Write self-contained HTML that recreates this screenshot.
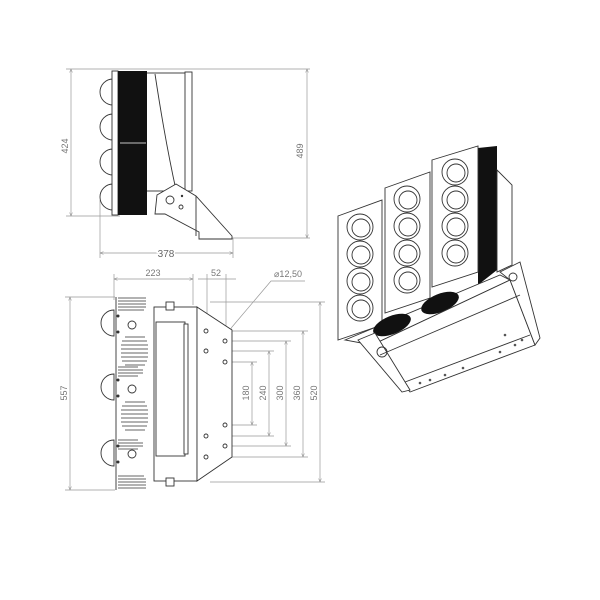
<!DOCTYPE html>
<html><head><meta charset="utf-8"><style>
html,body{margin:0;padding:0;background:#fff}
svg{display:block}
text{font-family:"Liberation Sans",sans-serif;font-size:9px;fill:#777}
.d{stroke:#999;stroke-width:0.7;fill:none}
.l{stroke:#333;stroke-width:0.9;fill:#fff}
.n{stroke:#333;stroke-width:0.9;fill:none}
</style></head><body>
<svg width="600" height="600" viewBox="0 0 600 600" xmlns="http://www.w3.org/2000/svg">
<defs>
<marker id="a" markerWidth="6" markerHeight="6" refX="5" refY="3" orient="auto-start-reverse"><path d="M0,1 L5,3 L0,5" fill="none" stroke="#888" stroke-width="0.7"/></marker>
</defs>

<!-- TOP VIEW -->
<line class="d" x1="66" y1="69" x2="310" y2="69"/>
<line class="d" x1="66" y1="216" x2="120" y2="216"/>
<line class="d" x1="200" y1="238" x2="310" y2="238"/>
<line class="d" x1="71" y1="69" x2="71" y2="216" marker-start="url(#a)" marker-end="url(#a)"/>
<line class="d" x1="307" y1="69" x2="307" y2="238" marker-start="url(#a)" marker-end="url(#a)"/>
<text transform="translate(68,146) rotate(-90)" text-anchor="middle">424</text>
<text transform="translate(303,151) rotate(-90)" text-anchor="middle">489</text>
<line class="d" x1="100" y1="200" x2="100" y2="258"/>
<line class="d" x1="233" y1="238" x2="233" y2="258"/>
<line class="d" x1="100" y1="253" x2="233" y2="253" marker-start="url(#a)" marker-end="url(#a)"/>
<text x="166" y="257" text-anchor="middle" style="fill:#666;font-size:10px;paint-order:stroke;stroke:#fff;stroke-width:3">378</text>
<g class="l">
<path d="M113,79 A13,13 0 0 0 113,105 Z"/>
<path d="M113,114 A13,13 0 0 0 113,140 Z"/>
<path d="M113,149 A13,13 0 0 0 113,175 Z"/>
<path d="M113,184 A13,13 0 0 0 113,210 Z"/>
<rect x="112" y="71" width="6" height="144"/>
<rect x="145" y="73" width="42" height="118"/>
<rect x="185" y="72" width="7" height="119"/>
</g>
<rect x="118" y="71" width="29" height="144" fill="#111"/>
<line x1="120" y1="143" x2="146" y2="143" stroke="#fff" stroke-width="0.8"/>
<path class="n" d="M155,74 Q165,140 176,190"/>
<path class="l" d="M157,195 L176,184 L196,196 L232,236 L232,239 L199,239 L199,232 L165,214 L155,214 Z"/>
<circle class="n" cx="170" cy="200" r="4"/>
<circle class="n" cx="181" cy="207" r="2"/>
<circle cx="182" cy="196" r="1.2" fill="#333"/>
<line class="n" x1="196" y1="196" x2="196" y2="236"/>

<!-- SIDE VIEW -->
<line class="d" x1="114" y1="274" x2="114" y2="300"/>
<line class="d" x1="193" y1="274" x2="193" y2="305"/>
<line class="d" x1="114" y1="279" x2="193" y2="279" marker-start="url(#a)" marker-end="url(#a)"/>
<text x="153" y="276" text-anchor="middle">223</text>
<line class="d" x1="207" y1="274" x2="207" y2="330"/>
<line class="d" x1="226" y1="274" x2="226" y2="340"/>
<line class="d" x1="198" y1="279" x2="236" y2="279"/>
<text x="216" y="276" text-anchor="middle">52</text>
<text x="288" y="277" text-anchor="middle">⌀12,50</text>
<polyline class="d" points="217,352 232,327 271,281 305,281"/>
<line class="d" x1="65" y1="297" x2="115" y2="297"/>
<line class="d" x1="65" y1="490" x2="115" y2="490"/>
<line class="d" x1="70" y1="297" x2="70" y2="490" marker-start="url(#a)" marker-end="url(#a)"/>
<text transform="translate(67,393) rotate(-90)" text-anchor="middle">557</text>
<g class="d">
<line x1="210" y1="302" x2="325" y2="302"/>
<line x1="210" y1="482" x2="325" y2="482"/>
<line x1="209" y1="331" x2="308" y2="331"/>
<line x1="209" y1="457" x2="308" y2="457"/>
<line x1="228" y1="341" x2="291" y2="341"/>
<line x1="228" y1="446" x2="291" y2="446"/>
<line x1="209" y1="351" x2="274" y2="351"/>
<line x1="209" y1="436" x2="274" y2="436"/>
<line x1="228" y1="362" x2="257" y2="362"/>
<line x1="228" y1="425" x2="257" y2="425"/>
</g>
<g class="d">
<line x1="252" y1="362" x2="252" y2="425" marker-start="url(#a)" marker-end="url(#a)"/>
<line x1="269" y1="351" x2="269" y2="436" marker-start="url(#a)" marker-end="url(#a)"/>
<line x1="286" y1="341" x2="286" y2="446" marker-start="url(#a)" marker-end="url(#a)"/>
<line x1="303" y1="331" x2="303" y2="457" marker-start="url(#a)" marker-end="url(#a)"/>
<line x1="320" y1="302" x2="320" y2="482" marker-start="url(#a)" marker-end="url(#a)"/>
</g>
<text transform="translate(249,393) rotate(-90)" text-anchor="middle">180</text>
<text transform="translate(266,393) rotate(-90)" text-anchor="middle">240</text>
<text transform="translate(283,393) rotate(-90)" text-anchor="middle">300</text>
<text transform="translate(300,393) rotate(-90)" text-anchor="middle">360</text>
<text transform="translate(317,393) rotate(-90)" text-anchor="middle">520</text>
<!-- fins -->
<g stroke="#333" stroke-width="0.8">
<path d="M118,298 h28 M118,301 h28 M118,304 h28 M118,307 h28 M118,310 h26"/>
<path d="M125,337 h20 M122,341 h25 M121,345 h27 M121,349 h27 M121,353 h27 M121,357 h27 M122,361 h25 M125,365 h20"/>
<path d="M125,402 h20 M122,406 h25 M121,410 h27 M121,414 h27 M121,418 h27 M121,422 h27 M122,426 h25 M125,430 h20"/>
<path d="M118,476 h26 M118,479 h28 M118,482 h28 M118,485 h28 M118,488 h28"/>
<path d="M118,367 h20 M118,370 h25 M118,373 h25 M118,376 h20"/>
<path d="M118,440 h20 M118,443 h25 M118,446 h25 M118,449 h20"/>
</g>
<g class="l">
<path d="M114,310 A13,13 0 0 0 114,336 Z"/>
<path d="M114,374 A13,13 0 0 0 114,400 Z"/>
<path d="M114,440 A13,13 0 0 0 114,466 Z"/>
<circle cx="132" cy="325" r="4"/>
<circle cx="132" cy="389" r="4"/>
<circle cx="132" cy="454" r="4"/>
</g>
<line class="n" x1="116" y1="297" x2="116" y2="490"/>
<g fill="#333">
<circle cx="118" cy="316" r="1.5"/><circle cx="118" cy="332" r="1.5"/>
<circle cx="118" cy="380" r="1.5"/><circle cx="118" cy="396" r="1.5"/>
<circle cx="118" cy="446" r="1.5"/><circle cx="118" cy="462" r="1.5"/>
</g>
<g class="l">
<rect x="154" y="307" width="43" height="174"/>
<rect x="156" y="322" width="29" height="134"/>
<rect x="184" y="324" width="4" height="130"/>
<path d="M197,307 L232,330 L232,457 L197,481 Z"/>
<rect x="166" y="302" width="8" height="8"/>
<rect x="166" y="478" width="8" height="8"/>
</g>
<g class="n">
<circle cx="206" cy="331" r="2"/><circle cx="206" cy="351" r="2"/><circle cx="206" cy="436" r="2"/><circle cx="206" cy="457" r="2"/>
<circle cx="225" cy="341" r="2"/><circle cx="225" cy="362" r="2"/><circle cx="225" cy="425" r="2"/><circle cx="225" cy="446" r="2"/>
</g>

<!-- 3D VIEW -->
<path d="M478,148 L497,146 L497,270 L478,285 Z" fill="#111"/>
<path class="l" d="M497,170 L512,185 L512,265 L497,272 Z"/>
<g class="l">
<path d="M338,216 L382,200 L382,325 L338,340 Z"/>
<path d="M385,188 L430,172 L430,298 L385,313 Z"/>
<path d="M432,160 L478,146 L478,272 L432,287 Z"/>
</g>
<g class="l">
<circle cx="360" cy="227" r="13"/><circle cx="360" cy="254" r="13"/><circle cx="360" cy="281" r="13"/><circle cx="360" cy="308" r="13"/>
<circle cx="407" cy="199" r="13"/><circle cx="407" cy="226" r="13"/><circle cx="407" cy="253" r="13"/><circle cx="407" cy="280" r="13"/>
<circle cx="455" cy="172" r="13"/><circle cx="455" cy="199" r="13"/><circle cx="455" cy="226" r="13"/><circle cx="455" cy="253" r="13"/>
</g>
<g class="n" stroke-width="0.6">
<circle cx="361" cy="228" r="9"/><circle cx="361" cy="255" r="9"/><circle cx="361" cy="282" r="9"/><circle cx="361" cy="309" r="9"/>
<circle cx="408" cy="200" r="9"/><circle cx="408" cy="227" r="9"/><circle cx="408" cy="254" r="9"/><circle cx="408" cy="281" r="9"/>
<circle cx="456" cy="173" r="9"/><circle cx="456" cy="200" r="9"/><circle cx="456" cy="227" r="9"/><circle cx="456" cy="254" r="9"/>
</g>
<path class="l" d="M345,340 L500,275 L510,280 L372,345 Z"/>
<ellipse cx="392" cy="325" rx="20" ry="9" fill="#111" transform="rotate(-22 392 325)"/>
<ellipse cx="440" cy="303" rx="20" ry="9" fill="#111" transform="rotate(-22 440 303)"/>
<path class="l" d="M372,345 L510,280 L535,345 L410,392 Z"/>
<path class="l" d="M500,272 L520,262 L540,338 L535,345 L510,280 Z"/>
<path class="l" d="M358,340 L375,333 L410,390 L402,392 Z"/>
<line class="n" x1="380" y1="355" x2="520" y2="295"/>
<line class="n" x1="405" y1="382" x2="530" y2="335"/>
<circle class="n" cx="382" cy="352" r="5"/>
<circle class="n" cx="513" cy="277" r="4"/>
<g fill="#555">
<circle cx="430" cy="380" r="1.3"/><circle cx="445" cy="375" r="1.3"/><circle cx="463" cy="368" r="1.3"/>
<circle cx="500" cy="352" r="1.3"/><circle cx="515" cy="345" r="1.3"/><circle cx="522" cy="340" r="1.3"/>
<circle cx="420" cy="383" r="1.3"/><circle cx="505" cy="335" r="1.3"/>
</g>
</svg>
</body></html>
